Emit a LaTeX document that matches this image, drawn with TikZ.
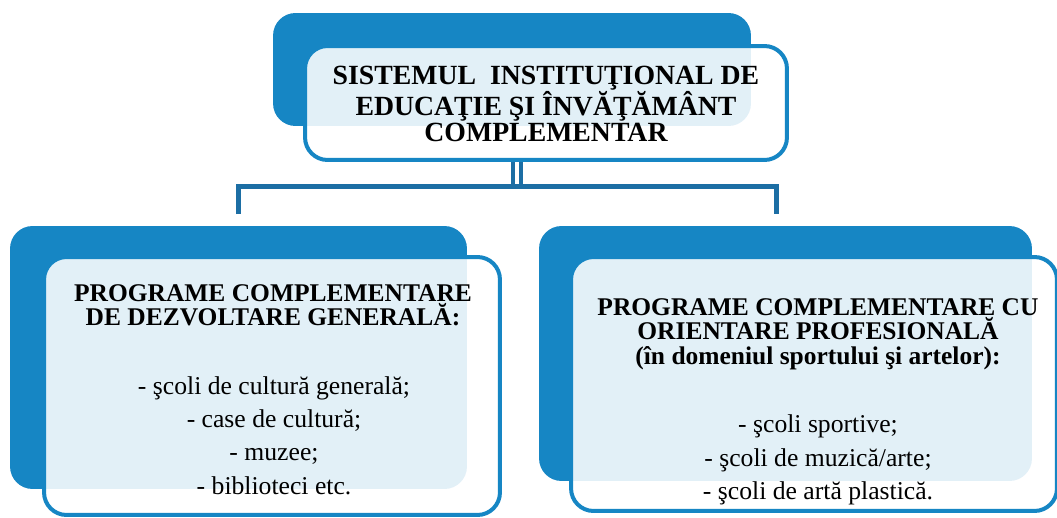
\documentclass[tikz,border=0pt]{standalone}
\usepackage{fontspec}
\setmainfont{Liberation Serif}
\usetikzlibrary{positioning}
\definecolor{bluebox}{RGB}{22,134,196}
\definecolor{blueline}{RGB}{28,110,164}

\tikzset{
  back/.style={fill=bluebox, rounded corners=0.45cm, inner sep=0pt},
  front/.style={draw=bluebox, line width=0.08cm, fill=white, fill opacity=0.88, rounded corners=0.45cm, inner sep=0pt},
  conn/.style={draw=blueline, line width=0.1cm},
  title/.style={font=\bfseries\fontsize{15.8}{14.8}\selectfont, align=center},
  head/.style={font=\bfseries\fontsize{14.5}{13.9}\selectfont, align=center},
  list/.style={font=\fontsize{14.6}{19}\selectfont, align=center}
}

\begin{document}
\begin{tikzpicture}[x=0.02cm, y=-0.02cm]
\useasboundingbox (0,0) rectangle (1057,517);

% sistemul
\node[back, minimum width=9.56cm, minimum height=2.26cm] (sisb) at (512,69.5) {};
\node[front, minimum width=9.64cm, minimum height=2.28cm] (sis) at (546,103) {};
\node[title] (sist) at (546,104) {SISTEMUL\ \ INSTITUŢIONAL DE\\EDUCAŢIE ŞI ÎNVĂŢĂMÂNT\\COMPLEMENTAR};

% dezvoltare generala
\node[back, minimum width=9.14cm, minimum height=5.26cm] (genb) at (238.5,357.5) {};
\node[front, minimum width=9.12cm, minimum height=5.16cm] (gen) at (272,386) {};
\node[head] (gent) at (273,305.5) {PROGRAME COMPLEMENTARE\\DE DEZVOLTARE GENERALĂ:};
\node[list] (genl) at (274,435.5) {- şcoli de cultură generală;\\- case de cultură;\\- muzee;\\- biblioteci etc.};

% orientare profesionala
\node[back, minimum width=9.86cm, minimum height=5.1cm] (prob) at (785.5,353.5) {};
\node[front, minimum width=9.72cm, minimum height=5.08cm] (pro) at (814,384) {};
\node[head] (prot) at (818,334) {PROGRAME COMPLEMENTARE CU\\ORIENTARE PROFESIONALĂ\\(în domeniul sportului şi artelor):};
\node[list] (prol) at (818,460) {- şcoli sportive;\\- şcoli de muzică/arte;\\- şcoli de artă plastică.};

% legaturi
\coordinate (hub) at (517,186.5);
\coordinate (lfoot) at (238,214);
\coordinate (rfoot) at (776,214);
\draw[blueline, line width=0.08cm, double=white, double distance=0.08cm] (sis.south -| hub) -- (hub);
\draw[conn] (lfoot) -- (lfoot |- hub) -- (rfoot |- hub) -- (rfoot);
\end{tikzpicture}
\end{document}
